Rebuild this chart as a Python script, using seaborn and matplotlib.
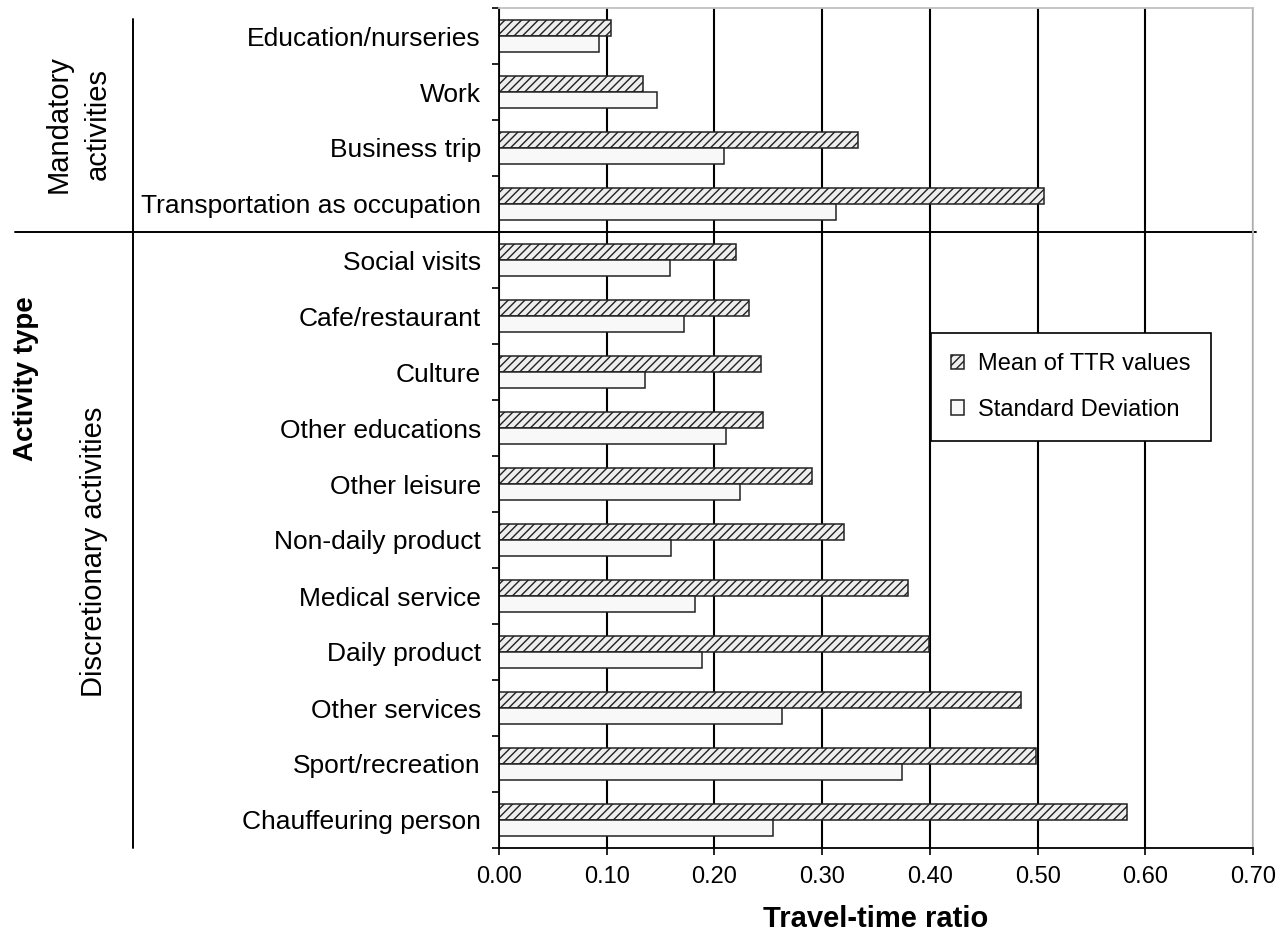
import pandas as pd
import numpy as np
import matplotlib
matplotlib.use('Agg')
import matplotlib.pyplot as plt
from matplotlib.patches import Patch
from matplotlib.transforms import blended_transform_factory
import seaborn as sns

# Values
activities = ['Education/nurseries', 'Work', 'Business trip', 'Transportation as occupation',
              'Social visits', 'Cafe/restaurant', 'Culture', 'Other educations', 'Other leisure',
              'Non-daily product', 'Medical service', 'Daily product', 'Other services',
              'Sport/recreation', 'Chauffeuring person']
mean_ttr = [0.104, 0.134, 0.333, 0.506, 0.220, 0.232, 0.243, 0.245, 0.291,
            0.320, 0.380, 0.399, 0.485, 0.499, 0.583]
sd_ttr = [0.093, 0.147, 0.209, 0.313, 0.159, 0.172, 0.136, 0.211, 0.224,
          0.160, 0.182, 0.188, 0.263, 0.374, 0.254]
series_names = ['Mean of TTR values', 'Standard Deviation']
x_ticks = [0.0, 0.1, 0.2, 0.3, 0.4, 0.5, 0.6, 0.7]
n_mandatory = 4

df = pd.DataFrame({'activity': activities, series_names[0]: mean_ttr, series_names[1]: sd_ttr})
df = df.melt(id_vars='activity', var_name='stat', value_name='ttr')

sns.set_theme(style='white')
plt.rcParams['font.family'] = ['Liberation Sans', 'DejaVu Sans']
plt.rcParams['hatch.linewidth'] = 1.0
for key in ['text.color', 'axes.labelcolor', 'xtick.color', 'ytick.color']:
    plt.rcParams[key] = 'black'

fig = plt.figure(figsize=(12.81, 9.33), dpi=100)
ax = fig.add_axes([499 / 1281, 1 - 848 / 933, 754 / 1281, 840 / 933])

fill_cols = ['#eeeeee', '#f8f8f8']
sns.barplot(data=df, x='ttr', y='activity', hue='stat', orient='h', ax=ax,
            palette=fill_cols, saturation=1, width=0.56, legend=False,
            edgecolor='#222222', linewidth=1.1)

# hatch the mean bars
for bar in ax.containers[0]:
    bar.set_hatch('////')

ax.set_xlim(0, 0.7)
ax.set_ylim(len(activities) - 0.5, -0.5)
ax.set_xticks(x_ticks)
ax.set_xticklabels(['%.2f' % t for t in x_ticks], fontsize=17)
ax.tick_params(axis='x', direction='out', length=5, width=1.2, color='black', pad=8, bottom=True)
ax.set_xlabel('Travel-time ratio', fontsize=21, fontweight='bold', labelpad=12)
ax.set_ylabel('')

# labels at category centres, tick marks at category boundaries
ax.tick_params(axis='y', which='major', length=0, pad=13, labelsize=19)
ax.set_yticks(np.arange(-0.5, len(activities), 1), minor=True)
ax.tick_params(axis='y', which='minor', direction='out', length=5, width=1.2, color='black', left=True)

ax.set_axisbelow(True)
ax.xaxis.grid(True, color='black', linewidth=1.5)
ax.yaxis.grid(False)

for side in ['left', 'bottom']:
    ax.spines[side].set_color('black')
    ax.spines[side].set_linewidth(1.3)
for side in ['top', 'right']:
    ax.spines[side].set_color('#c0c0c0')
    ax.spines[side].set_linewidth(1.3)

# group divider lines
trans = blended_transform_factory(ax.transAxes, ax.transData)
ax.plot([-0.642, 1.004], [n_mandatory - 0.5] * 2, color='black', lw=1.4,
        transform=trans, clip_on=False)
ax.plot([-0.485, -0.485], [0, 0.987], color='black', lw=1.4,
        transform=ax.transAxes, clip_on=False)

# group and axis titles
fig.text(78 / 1281, 1 - 124 / 933, 'Mandatory\nactivities', rotation=90, fontsize=21,
         ha='center', va='center', linespacing=1.5)
fig.text(94 / 1281, 1 - 552 / 933, 'Discretionary activities', rotation=90, fontsize=21,
         ha='center', va='center')
fig.text(26 / 1281, 1 - 379 / 933, 'Activity type', rotation=90, fontsize=20,
         fontweight='bold', ha='center', va='center')

handles = [Patch(facecolor=fill_cols[0], edgecolor='#222222', hatch='////', linewidth=1.1),
           Patch(facecolor=fill_cols[1], edgecolor='#222222', linewidth=1.1)]
leg = ax.legend(handles, series_names, loc='upper left', bbox_to_anchor=(0.573, 0.613),
                borderaxespad=0, fontsize=17, frameon=True, fancybox=False,
                handlelength=0.55, handleheight=0.55, handletextpad=0.6,
                labelspacing=1.0, borderpad=0.85)
leg.get_frame().set_edgecolor('black')
leg.get_frame().set_linewidth(1.2)
leg.get_frame().set_alpha(1)

fig.savefig('out.png', dpi=100)
